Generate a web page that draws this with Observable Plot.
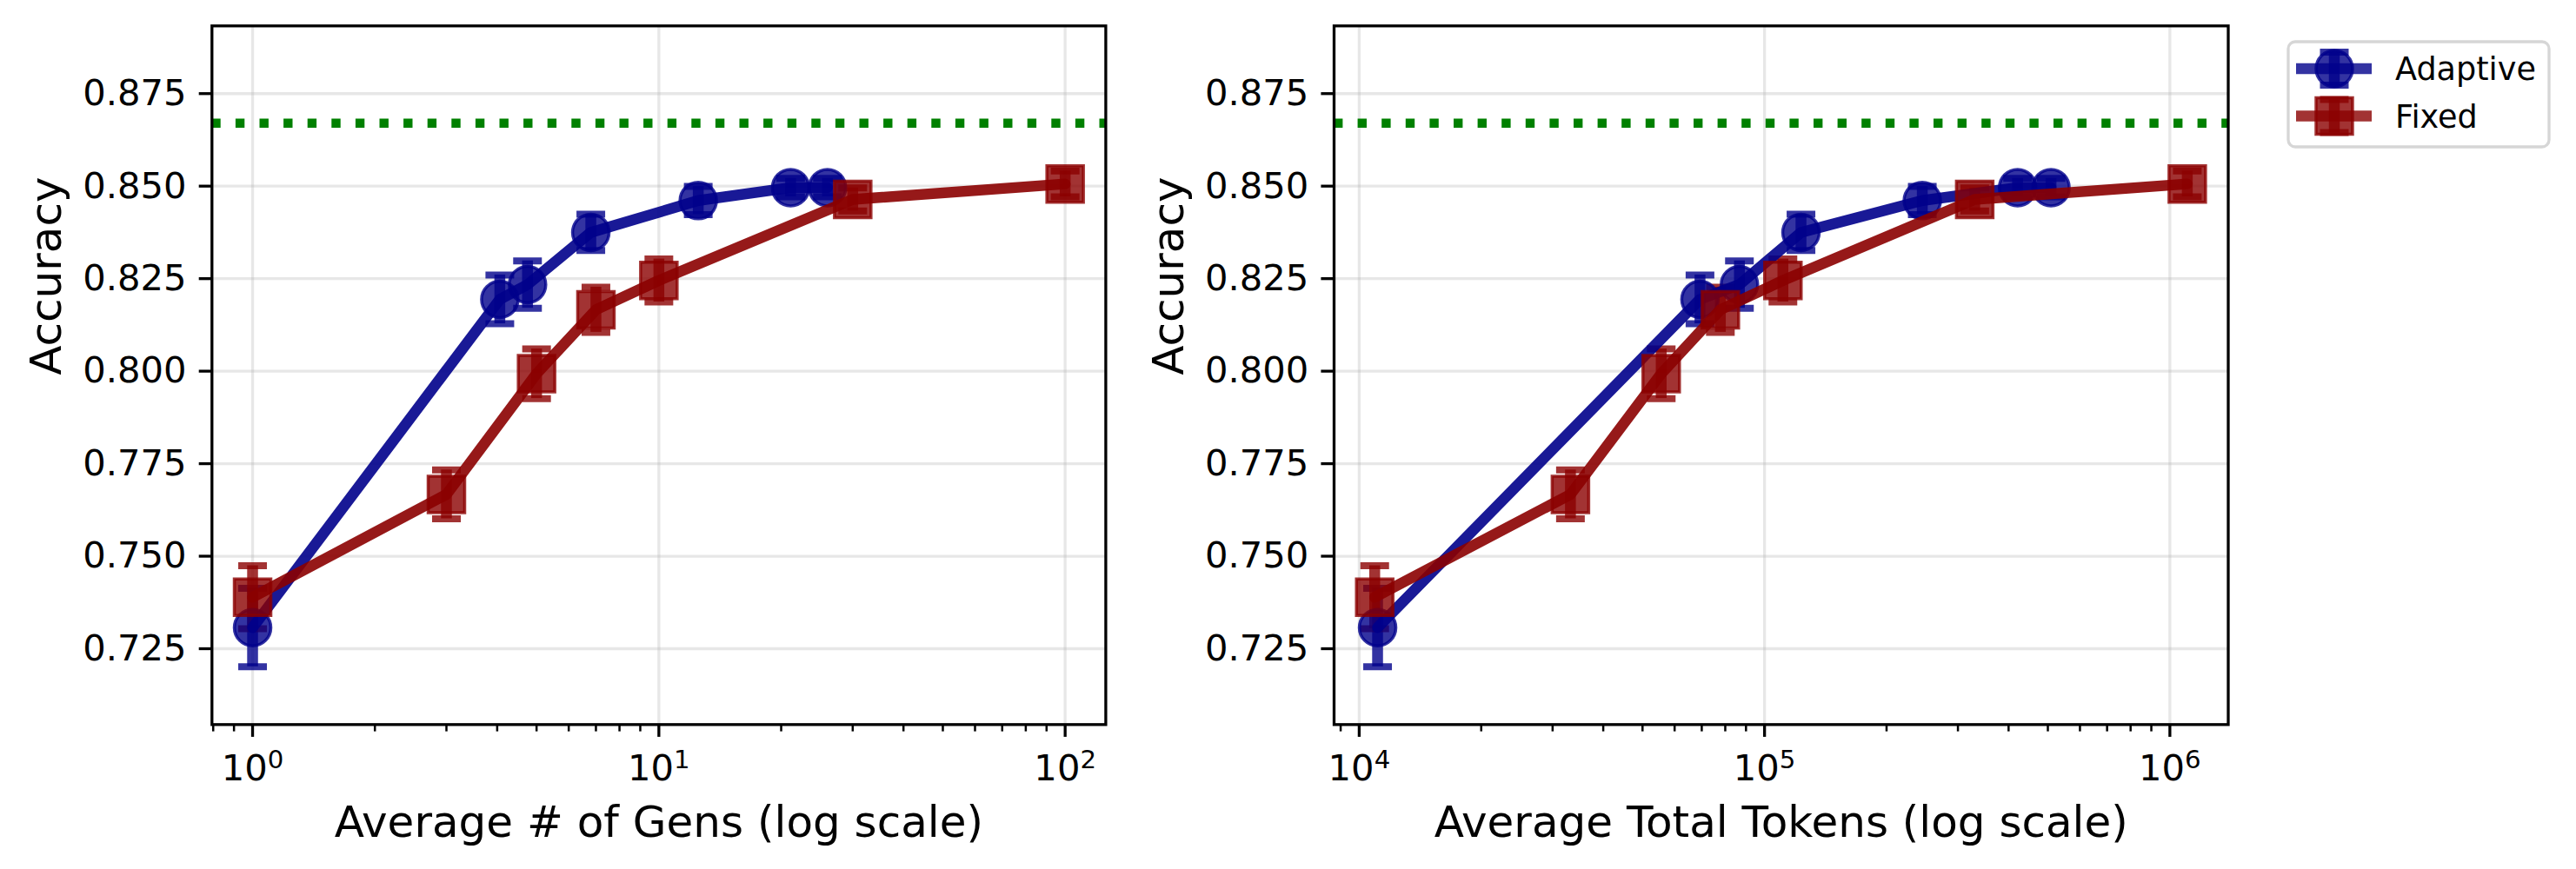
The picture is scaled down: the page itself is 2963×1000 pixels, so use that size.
<!DOCTYPE html>
<html>
<head>
<meta charset="utf-8">
<script src="https://cdn.jsdelivr.net/npm/d3@7"></script>
<script src="https://cdn.jsdelivr.net/npm/@observablehq/plot@0.6"></script>
<style>
  html, body { margin: 0; padding: 0; background: #ffffff; }
  #wrap { position: relative; width: 2963px; height: 1000px; font-family: "DejaVu Sans", sans-serif; }
  .panel { position: absolute; top: 0; }
  #legend { position: absolute; left: 2625px; top: 40px; }
</style>
</head>
<body>
<div id="wrap">
  <div class="panel" id="p1" style="left:0px"></div>
  <div class="panel" id="p2" style="left:1300px"></div>
  <svg id="legend" width="320" height="140" xmlns="http://www.w3.org/2000/svg"></svg>
</div>
<script>
// ---------------- data ----------------
const seriesNames = ["Adaptive", "Fixed"];
const seriesColors = ["#00008b", "#8b0000"];

const adaptiveGens   = [1, 4.06, 4.75, 6.8, 12.5, 21.1, 26.0];
const adaptiveTokens = [11100, 69300, 86700, 123000, 245000, 421000, 509000];
const adaptiveAcc    = [0.7307, 0.8194, 0.8234, 0.8375, 0.8461, 0.8496, 0.8496];
const adaptiveErr    = [0.0106, 0.0066, 0.0064, 0.0049, 0.0038, 0.0025, 0.0025];

const fixedGens   = [1, 3, 5, 7, 10, 30, 100];
const fixedTokens = [10920, 33200, 55600, 77800, 111000, 330000, 1104000];
const fixedAcc    = [0.7389, 0.7667, 0.7993, 0.8166, 0.8245, 0.8464, 0.8506];
const fixedErr    = [0.0085, 0.0066, 0.0067, 0.0061, 0.0058, 0.0031, 0.0035];

const referenceAcc = [0.867];

const yTicks = [0.725, 0.750, 0.775, 0.800, 0.825, 0.850, 0.875];
const yDomain = [0.7045, 0.8933];

const gensTicks = [1, 10, 100];
const gensTickLabels = ["10^0", "10^1", "10^2"];
const gensDomain = [Math.pow(10, -0.1), Math.pow(10, 2.1)];

const tokensTicks = [1e4, 1e5, 1e6];
const tokensTickLabels = ["10^4", "10^5", "10^6"];
const tokensDomain = [Math.pow(10, 3.938), Math.pow(10, 6.144)];

const yLabel = "Accuracy";
const gensLabel = "Average # of Gens (log scale)";
const tokensLabel = "Average Total Tokens (log scale)";

// ---------------- helpers ----------------
const CAP_W = 33;
const capSymbol = {
  draw(context, size) {
    const w = Math.sqrt(size) / 2;
    context.moveTo(-w, 0);
    context.lineTo(w, 0);
  }
};
const capR = CAP_W / Math.sqrt(Math.PI);

function errorBars(rows, color) {
  return [
    Plot.ruleX(rows, {x: "x", y1: d => d.acc - d.err, y2: d => d.acc + d.err,
      stroke: color, strokeWidth: 12.5, strokeOpacity: 0.8}),
    Plot.dot(rows, {x: "x", y: d => d.acc + d.err, symbol: capSymbol, r: capR,
      fill: "none", stroke: color, strokeWidth: 8, strokeOpacity: 0.8}),
    Plot.dot(rows, {x: "x", y: d => d.acc - d.err, symbol: capSymbol, r: capR,
      fill: "none", stroke: color, strokeWidth: 8, strokeOpacity: 0.8})
  ];
}
function dataLine(rows, color, symbol, r) {
  return [
    Plot.line(rows, {x: "x", y: "acc", stroke: color, strokeWidth: 12.5,
      strokeOpacity: 0.9, strokeLinejoin: "round"}),
    Plot.dot(rows, {x: "x", y: "acc", symbol, r, fill: color, fillOpacity: 0.8,
      stroke: color, strokeOpacity: 0.8, strokeWidth: 3.5})
  ];
}

function makePanel(cfg) {
  const aRows = cfg.adaptiveX.map((x, i) => ({x, acc: adaptiveAcc[i], err: adaptiveErr[i]}));
  const fRows = cfg.fixedX.map((x, i) => ({x, acc: fixedAcc[i], err: fixedErr[i]}));
  const minorTicks = d3.scaleLog().domain(cfg.domain).ticks().filter(t => !cfg.ticks.includes(t));
  const plot = Plot.plot({
    width: 1300,
    height: 1000,
    marginLeft: cfg.marginLeft,
    marginRight: cfg.marginRight,
    marginTop: 29.3,
    marginBottom: 166.7,
    style: {fontFamily: "DejaVu Sans", fontSize: "41.7px", color: "black", background: "white", overflow: "visible"},
    x: {type: "log", domain: cfg.domain},
    y: {domain: yDomain},
    marks: [
      Plot.gridX(cfg.ticks, {stroke: "#b0b0b0", strokeOpacity: 0.3, strokeWidth: 3.3}),
      Plot.gridY(yTicks, {stroke: "#b0b0b0", strokeOpacity: 0.3, strokeWidth: 3.3}),
      ...errorBars(aRows, seriesColors[0]),
      ...errorBars(fRows, seriesColors[1]),
      Plot.ruleY(referenceAcc, {stroke: "#008000", strokeWidth: 10.4, strokeDasharray: "10.4 17.2"}),
      ...dataLine(aRows, seriesColors[0], "circle", 21),
      ...dataLine(fRows, seriesColors[1], "square", 23.7),
      Plot.frame({stroke: "black", strokeWidth: 3.3}),
      Plot.axisY(yTicks, {tickSize: 14.6, tickPadding: 14.6, tickFormat: d3.format(".3f"),
        fontSize: 41.7, strokeWidth: 3.3, label: null}),
      Plot.axisX(cfg.ticks, {tickSize: 14.6, tickPadding: 19.5,
        tickFormat: d => cfg.tickLabels[cfg.ticks.indexOf(d)],
        fontSize: 41.7, strokeWidth: 3.3, label: null}),
      Plot.axisX(minorTicks, {tickSize: 8.3, strokeWidth: 2.5, fill: "none", label: null}),
      Plot.text([cfg.xLabel], {text: d => d, frameAnchor: "bottom", lineAnchor: "bottom",
        dy: 128.7, fontSize: 50, fill: "black"}),
      Plot.text([yLabel], {text: d => d, frameAnchor: "left", lineAnchor: "bottom",
        rotate: -90, dx: -174, fontSize: 50, fill: "black"})
    ]
  });
  // render "10^k" tick labels with a real superscript
  plot.querySelectorAll('g[aria-label="x-axis tick label"] text').forEach(t => {
    const s = t.textContent;
    const k = s.indexOf("^");
    if (k < 0) return;
    t.textContent = "";
    t.appendChild(document.createTextNode(s.slice(0, k)));
    const sup = document.createElementNS("http://www.w3.org/2000/svg", "tspan");
    sup.setAttribute("dy", "-13.7");
    sup.setAttribute("font-size", "29.2");
    sup.textContent = s.slice(k + 1);
    t.appendChild(sup);
  });
  return plot;
}

document.getElementById("p1").appendChild(makePanel({
  adaptiveX: adaptiveGens, fixedX: fixedGens, domain: gensDomain,
  ticks: gensTicks, tickLabels: gensTickLabels, xLabel: gensLabel,
  marginLeft: 243.3, marginRight: 28.6
}));
document.getElementById("p2").appendChild(makePanel({
  adaptiveX: adaptiveTokens, fixedX: fixedTokens, domain: tokensDomain,
  ticks: tokensTicks, tickLabels: tokensTickLabels, xLabel: tokensLabel,
  marginLeft: 234, marginRight: 37.5
}));

// ---------------- legend ----------------
(function () {
  const svg = d3.select("#legend");
  svg.append("rect").attr("x", 7).attr("y", 8).attr("width", 300).attr("height", 121)
    .attr("rx", 8).attr("fill", "white").attr("fill-opacity", 0.8)
    .attr("stroke", "#cccccc").attr("stroke-opacity", 0.8).attr("stroke-width", 3.3);
  const rows = [
    {name: seriesNames[0], color: seriesColors[0], shape: "circle", y: 39, baseline: 51.7},
    {name: seriesNames[1], color: seriesColors[1], shape: "square", y: 93.5, baseline: 106.7}
  ];
  rows.forEach(r => {
    const g = svg.append("g");
    g.append("line").attr("x1", 16).attr("x2", 103).attr("y1", r.y).attr("y2", r.y)
      .attr("stroke", r.color).attr("stroke-opacity", 0.8).attr("stroke-width", 12.5);
    g.append("line").attr("x1", 60).attr("x2", 60).attr("y1", r.y - 19).attr("y2", r.y + 19)
      .attr("stroke", r.color).attr("stroke-opacity", 0.8).attr("stroke-width", 12.5);
    [-19, 19].forEach(o => g.append("line").attr("x1", 60 - CAP_W / 2).attr("x2", 60 + CAP_W / 2)
      .attr("y1", r.y + o).attr("y2", r.y + o)
      .attr("stroke", r.color).attr("stroke-opacity", 0.8).attr("stroke-width", 8));
    if (r.shape === "circle") {
      g.append("circle").attr("cx", 60).attr("cy", r.y).attr("r", 21)
        .attr("fill", r.color).attr("fill-opacity", 0.8)
        .attr("stroke", r.color).attr("stroke-opacity", 0.8).attr("stroke-width", 3.5);
    } else {
      g.append("rect").attr("x", 60 - 21).attr("y", r.y - 21).attr("width", 42).attr("height", 42)
        .attr("fill", r.color).attr("fill-opacity", 0.8)
        .attr("stroke", r.color).attr("stroke-opacity", 0.8).attr("stroke-width", 3.5);
    }
    svg.append("text").attr("x", 130).attr("y", r.baseline)
      .attr("font-family", "DejaVu Sans").attr("font-size", 36.6).attr("fill", "black")
      .text(r.name);
  });
})();
</script>
</body>
</html>
